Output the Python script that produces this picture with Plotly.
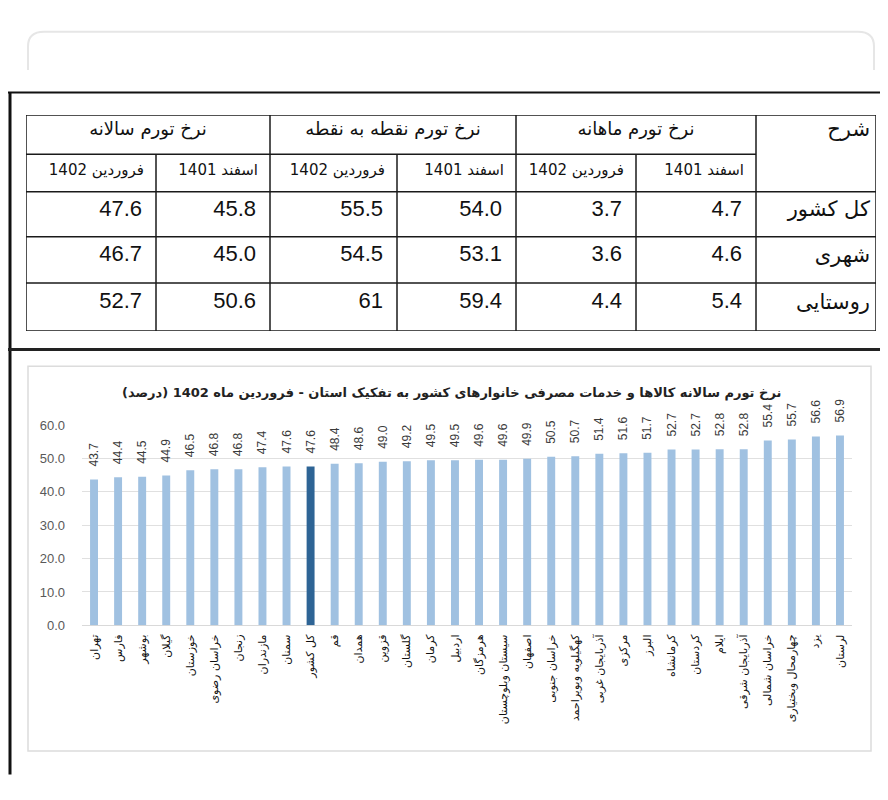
import plotly.graph_objects as go

# ---------------- data ----------------
provinces = ['تهران', 'فارس', 'بوشهر', 'گیلان', 'خوزستان', 'خراسان رضوی', 'زنجان', 'مازندران',
             'سمنان', 'کل کشور', 'قم', 'همدان', 'قزوین', 'گلستان', 'کرمان', 'اردبیل', 'هرمزگان',
             'سیستان وبلوچستان', 'اصفهان', 'خراسان جنوبی', 'کهگیلویه وبویراحمد', 'آذربایجان غربی',
             'مرکزی', 'البرز', 'کرمانشاه', 'کردستان', 'ایلام', 'آذربایجان شرقی', 'خراسان شمالی',
             'چهارمحال وبختیاری', 'یزد', 'لرستان']
annual_inflation = [43.7, 44.4, 44.5, 44.9, 46.5, 46.8, 46.8, 47.4, 47.6, 47.6, 48.4, 48.6, 49.0,
                    49.2, 49.5, 49.5, 49.6, 49.6, 49.9, 50.5, 50.7, 51.4, 51.6, 51.7, 52.7, 52.7,
                    52.8, 52.8, 55.4, 55.7, 56.6, 56.9]
highlight = 'کل کشور'
y_ticks = [0, 10, 20, 30, 40, 50, 60]

chart_title = 'نرخ تورم سالانه کالاها و خدمات مصرفی خانوارهای کشور به تفکیک استان - فروردین ماه 1402 (درصد)'

# table data
row_header = 'شرح'
row_labels = ['کل کشور', 'شهری', 'روستایی']
group_headers = ['نرخ تورم ماهانه', 'نرخ تورم نقطه به نقطه', 'نرخ تورم سالانه']
sub_headers = ['اسفند 1401', 'فروردین 1402']
monthly_esfand = [4.7, 4.6, 5.4]
monthly_farvardin = [3.7, 3.6, 4.4]
p2p_esfand = [54.0, 53.1, 59.4]
p2p_farvardin = [55.5, 54.5, 61]
annual_esfand = [45.8, 45.0, 50.6]
annual_farvardin = [47.6, 46.7, 52.7]
table_columns = [monthly_esfand, monthly_farvardin, p2p_esfand, p2p_farvardin,
                 annual_esfand, annual_farvardin]

# ---------------- layout helpers ----------------
W, H = 888, 800
def X(px):
    return px / W
def Y(py):
    return 1 - py / H
def rtl(s):
    return '\u202b' + s + '\u202c'
def fmt(v):
    return f'{v:.1f}' if isinstance(v, float) else str(v)

FA = 'DejaVu Sans'
NUM = 'Liberation Sans, Arial, sans-serif'

fig = go.Figure()

# ---------------- bar chart ----------------
colors = ['#2e6495' if p == highlight else '#a0c1e1' for p in provinces]
fig.add_trace(go.Bar(
    x=provinces, y=annual_inflation, marker=dict(color=colors, line=dict(width=0)),
    text=['\u00a0\u00a0\u00a0' + f'{v:.1f}' for v in annual_inflation],
    textposition='outside', textangle=-90, constraintext='none', cliponaxis=False,
    textfont=dict(family=NUM, size=12, color='#3a3a3a'),
    xaxis='x', yaxis='y', showlegend=False, hoverinfo='x+y'))

# ---------------- table (drawn on its own axes) ----------------
col_edges = [868, 748, 628, 508, 389, 262, 148, 18]   # right to left
row_edges = [102, 142, 180, 226, 273, 322]

# group headers
gx, gy, gt = [], [], []
for i, g in enumerate(group_headers):
    gx.append((col_edges[1 + 2 * i] + col_edges[3 + 2 * i]) / 2)
    gy.append((row_edges[0] + row_edges[1]) / 2 - 4)
    gt.append(rtl(g))
fig.add_trace(go.Scatter(x=gx, y=gy, text=gt, mode='text', textposition='middle center',
                         textfont=dict(family=FA, size=18, color='#111'),
                         xaxis='x2', yaxis='y2', showlegend=False, hoverinfo='skip'))
# row header
fig.add_trace(go.Scatter(x=[col_edges[0] - 6], y=[(row_edges[0] + row_edges[1]) / 2 - 4],
                         text=[rtl(row_header)], mode='text', textposition='middle left',
                         textfont=dict(family=FA, size=21, color='#111'),
                         xaxis='x2', yaxis='y2', showlegend=False, hoverinfo='skip'))
# sub headers
sx, sy, st = [], [], []
for c in range(6):
    sx.append(col_edges[1 + c] - 12)
    sy.append((row_edges[1] + row_edges[2]) / 2 - 2)
    st.append(rtl(sub_headers[c % 2]))
fig.add_trace(go.Scatter(x=sx, y=sy, text=st, mode='text', textposition='middle left',
                         textfont=dict(family=FA, size=15, color='#111'),
                         xaxis='x2', yaxis='y2', showlegend=False, hoverinfo='skip'))
# row labels
fig.add_trace(go.Scatter(x=[col_edges[0] - 6] * 3,
                         y=[(row_edges[2 + r] + row_edges[3 + r]) / 2 - 3 for r in range(3)],
                         text=[rtl(s) for s in row_labels], mode='text', textposition='middle left',
                         textfont=dict(family=FA, size=21, color='#111'),
                         xaxis='x2', yaxis='y2', showlegend=False, hoverinfo='skip'))
# values
vx, vy, vt = [], [], []
for c, col in enumerate(table_columns):
    for r, v in enumerate(col):
        vx.append(col_edges[1 + c] - 14)
        vy.append((row_edges[2 + r] + row_edges[3 + r]) / 2 - 4)
        vt.append(fmt(v))
fig.add_trace(go.Scatter(x=vx, y=vy, text=vt, mode='text', textposition='middle left',
                         textfont=dict(family=NUM, size=22, color='#111'),
                         xaxis='x2', yaxis='y2', showlegend=False, hoverinfo='skip'))

shapes = []
tl = dict(color='#1a1a1a', width=1.5)
# outer border
shapes.append(dict(type='rect', xref='x2', yref='y2', x0=col_edges[-1], x1=col_edges[0],
                   y0=row_edges[0], y1=row_edges[-1], line=tl))
# horizontal lines
shapes.append(dict(type='line', xref='x2', yref='y2', x0=col_edges[-1], x1=col_edges[1],
                   y0=row_edges[1], y1=row_edges[1], line=tl))
for r in row_edges[2:-1]:
    shapes.append(dict(type='line', xref='x2', yref='y2', x0=col_edges[-1], x1=col_edges[0],
                       y0=r, y1=r, line=tl))
# vertical lines
for i, c in enumerate(col_edges[1:-1]):
    top = row_edges[0] if i % 2 == 0 else row_edges[1]
    shapes.append(dict(type='line', xref='x2', yref='y2', x0=c, x1=c, y0=top,
                       y1=row_edges[-1], line=tl))

# page decorations
blk = '#111111'
shapes.append(dict(type='line', xref='paper', yref='paper', x0=X(0), x1=X(888), y0=Y(79), y1=Y(79),
                   line=dict(color=blk, width=2)))
shapes.append(dict(type='line', xref='paper', yref='paper', x0=X(2), x1=X(2), y0=Y(79), y1=Y(774),
                   line=dict(color=blk, width=3)))
shapes.append(dict(type='line', xref='paper', yref='paper', x0=X(0), x1=X(888), y0=Y(341), y1=Y(341),
                   line=dict(color='#222', width=3)))
# faint rounded frame at the top
path = (f'M {X(20)},{Y(56)} L {X(20)},{Y(32)} Q {X(20)},{Y(17)} {X(36)},{Y(17)} '
        f'L {X(850)},{Y(17)} Q {X(866)},{Y(17)} {X(866)},{Y(32)} L {X(866)},{Y(56)}')
shapes.append(dict(type='path', xref='paper', yref='paper', path=path,
                   line=dict(color='#e6e6e6', width=2)))
# chart panel border
shapes.append(dict(type='rect', xref='paper', yref='paper', x0=X(20), x1=X(863), y0=Y(750), y1=Y(358),
                   line=dict(color='#dcdcdc', width=1.5), layer='below'))

fig.update_layout(
    width=W, height=H, margin=dict(l=0, r=0, t=0, b=0),
    paper_bgcolor='white', plot_bgcolor='rgba(0,0,0,0)',
    bargap=0.67, shapes=shapes,
    xaxis=dict(domain=[X(74), X(844)], type='category', tickangle=-90,
               tickfont=dict(family=FA, size=11, color='#111'), ticklabelstandoff=6,
               showgrid=False, zeroline=False, showline=False, ticks=''),
    yaxis=dict(domain=[Y(622), Y(418)], range=[0, 60], tickvals=y_ticks, tickformat='.1f',
               tickfont=dict(family=NUM, size=13, color='#595959'), ticklabelstandoff=16,
               showgrid=True, gridcolor='#e0e0e0', gridwidth=1, zeroline=True,
               zerolinecolor='#d9d9d9', zerolinewidth=1, showline=False),
    xaxis2=dict(domain=[X(18), X(868)], range=[18, 868], visible=False, fixedrange=True),
    yaxis2=dict(domain=[Y(322), Y(102)], range=[322, 102], visible=False, fixedrange=True),
    annotations=[dict(text='<b>' + rtl(chart_title) + '</b>', xref='paper', yref='paper',
                      x=X(443), y=Y(385), showarrow=False, xanchor='center', yanchor='middle',
                      font=dict(family=FA, size=13, color='#222'))],
)

fig.write_html('out.html')
